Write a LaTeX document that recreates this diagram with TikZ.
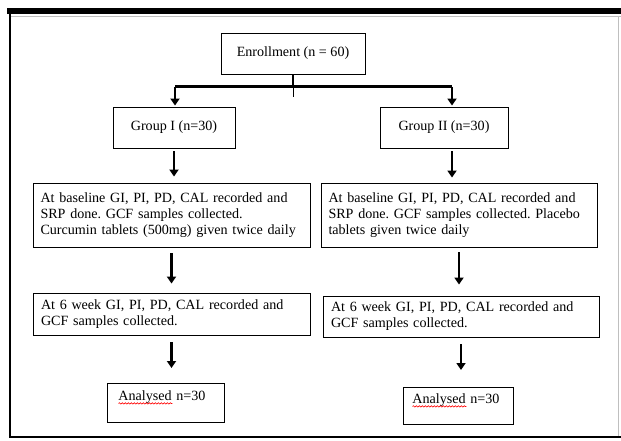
\documentclass[tikz,border=0pt]{standalone}
\usepackage{fontspec}
\setmainfont{Liberation Serif}
\usetikzlibrary{positioning}
\usetikzlibrary{arrows.meta}
\usetikzlibrary{decorations.pathmorphing}

\begin{document}
\frenchspacing
\begin{tikzpicture}[x=1pt, y=-1pt,
    caja/.style={draw, rectangle, line width=0.9pt, font=\fontsize{14.1}{16}\selectfont, inner xsep=8pt, inner ysep=0pt},
    flecha/.style={line width=2.8pt, -{Triangle[length=7pt, width=9pt]}}]
  \useasboundingbox (0,0) rectangle (621,441);
  % Marco
  \fill (7,8) rectangle (621,14);
  \draw[gray!50, line width=0.8pt] (10,16.5) -- (621,16.5);
  \draw[line width=1.8pt] (10,14) -- (10,437) -- (621,437);
  \draw[gray!50, line width=0.8pt] (618,17) -- (618,436);

  % Cajas
  \node[caja, minimum width=144pt, minimum height=41pt] (enroll) at (293,53.5) {Enrollment (n = 60)};
  \node[caja, minimum width=122pt, minimum height=41pt] (g1) at (174,127.5) {Group I (n=30)};
  \node[caja, minimum width=128pt, minimum height=41pt] (g2) at (444,127.5) {Group II (n=30)};
  \node[caja, text width=262pt, inner xsep=7.5pt, minimum height=64pt, align=left] (base1) at (171.5,215) {At baseline GI, PI, PD, CAL recorded and\\SRP done. GCF samples collected.\\\mbox{Curcumin tablets (500mg) given twice daily}};
  \node[caja, text width=261pt, inner xsep=7.5pt, minimum height=64pt, align=left] (base2) at (459,215) {At baseline GI, PI, PD, CAL recorded and\\SRP done. GCF samples collected. Placebo\\tablets given twice daily};
  \node[caja, text width=261pt, minimum height=42pt, align=left] (sem1) at (171.5,314) {At 6 week GI, PI, PD, CAL recorded and\\GCF samples collected.};
  \node[caja, text width=260pt, minimum height=41pt, align=left] (sem2) at (461,316.5) {At 6 week GI, PI, PD, CAL recorded and\\GCF samples collected.};
  \node[caja, anchor=north west, text width=95pt, align=left, inner xsep=11pt, inner ysep=7pt, text height=10pt, text depth=15pt] (an1) at (107,383) {Analysed n=30};
  \node[caja, anchor=north west, text width=92pt, align=left, inner xsep=9pt, inner ysep=6pt, text height=10pt, text depth=15pt] (an2) at (403,387) {Analysed n=30};
  \draw[red, line width=0.6pt, decorate, decoration={snake, amplitude=0.7pt, segment length=3pt}] ([yshift=-3pt]an1.text) -- ([xshift=54pt, yshift=-3pt]an1.text);
  \draw[red, line width=0.6pt, decorate, decoration={snake, amplitude=0.7pt, segment length=3pt}] ([yshift=-3pt]an2.text) -- ([xshift=54pt, yshift=-3pt]an2.text);

  % Flechas
  \coordinate (barL) at (175,87);
  \coordinate (barR) at (452,87);
  \draw[line width=3pt] (barL) -- (barR);
  \draw[line width=2.8pt] (enroll.south) -- (enroll.south |- barL);
  \draw[line width=0.6pt] (enroll.south |- barL) -- ++(0,10);
  \draw[flecha, shorten >=1pt] (barL) -- (barL |- g1.north);
  \draw[flecha, shorten >=1pt] (barR) -- (barR |- g2.north);
  \draw[flecha, shorten <=3pt, shorten >=6pt] (g1.south) -- (g1.south |- base1.north);
  \draw[flecha, shorten <=3pt, shorten >=5pt] (barR |- g2.south) -- (barR |- base2.north);
  \draw[flecha, shorten <=6pt, shorten >=9pt] (base1.south) -- (base1.south |- sem1.north);
  \draw[flecha, shorten <=5pt, shorten >=11pt] (base2.south) -- (base2.south |- sem2.north);
  \draw[flecha, shorten <=7pt, shorten >=15pt] (sem1.south) -- (sem1.south |- an1.north);
  \draw[flecha, shorten <=7pt, shorten >=17pt] (sem2.south) -- (sem2.south |- an2.north);
\end{tikzpicture}
\end{document}
